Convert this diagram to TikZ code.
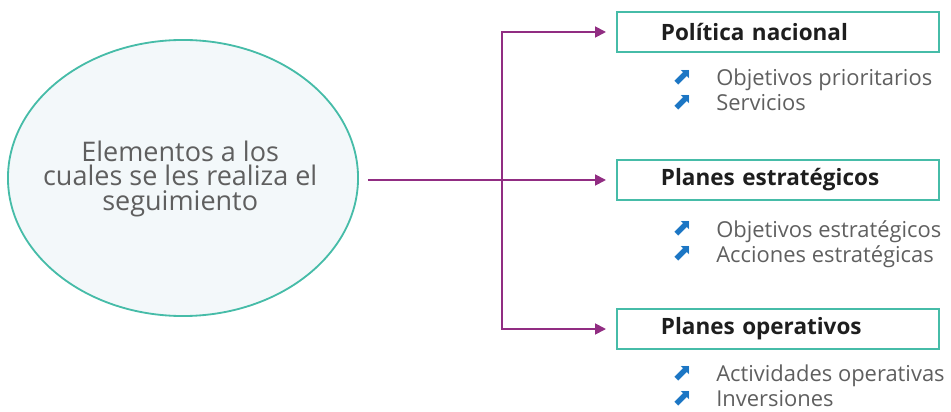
\documentclass[tikz,border=0pt]{standalone}
\usepackage{fontspec}
\setmainfont{Open Sans}
\newfontfamily\simbolos{DejaVu Sans}
\usetikzlibrary{positioning,arrows.meta,shapes.geometric}

\definecolor{turquesa}{RGB}{70,188,168}
\definecolor{morado}{RGB}{145,45,130}
\definecolor{azulicono}{RGB}{28,118,196}
\definecolor{gristexto}{RGB}{95,95,95}
\definecolor{titulo}{RGB}{30,30,30}
\definecolor{fondo}{RGB}{243,248,250}

\newcommand{\vineta}{\makebox[1.1cm][l]{\raisebox{1pt}{\textcolor{azulicono}{\simbolos\fontsize{17}{17}\selectfont ⬈}}}}

\begin{document}
\begin{tikzpicture}[x=0.025cm, y=-0.025cm,
    circulo/.style={ellipse, draw=turquesa, line width=1.3pt, fill=fondo,
      minimum width=8.75cm, minimum height=6.9cm},
    textocirculo/.style={text=gristexto, align=center,
      font=\fontsize{19.2}{17.3}\selectfont, xshift=-0.07cm, yshift=-0.02cm},
    caja/.style={rectangle, draw=turquesa, line width=1.3pt, minimum height=1cm,
      inner xsep=1.1cm, text width=5.85cm, align=left,
      font=\bfseries\fontsize{16}{17}\selectfont, text=titulo},
    lista/.style={align=left, text=gristexto, inner sep=0pt,
      font=\fontsize{15.6}{17.8}\selectfont},
    linea/.style={draw=morado, line width=1.3pt},
    flecha/.style={linea, -{Triangle[length=0.27cm, width=0.27cm]}}]
  \useasboundingbox (0,0) rectangle (951,412);

  \node[circulo, label={[textocirculo]center:{Elementos a los\\cuales se les realiza el\\seguimiento}}] (elem) at (183,178) {};

  \node[caja, anchor=west] (pol) at (616,32) {Política nacional};
  \node[caja, anchor=west] (est) at (616,180) {Planes estratégicos};
  \node[caja, anchor=west] (ope) at (616,329) {Planes operativos};

  \node[lista, anchor=west] (lpol) at (672,90) {\vineta Objetivos prioritarios\\\vineta Servicios};
  \node[lista, anchor=west] (lest) at (672,244) {\vineta Objetivos estratégicos\\\vineta Acciones estratégicas};
  \node[lista, anchor=west] (lope) at (672,386) {\vineta Actividades operativas\\\vineta Inversiones};

  % ramas
  \coordinate (rama) at (502,180);
  \draw[flecha, shorten >=0.25cm] ([xshift=0.22cm]elem.east |- est.west) -- (est.west);
  \draw[flecha, shorten >=0.25cm] (rama) |- (pol.west);
  \draw[flecha, shorten >=0.25cm] (rama) |- (ope.west);
\end{tikzpicture}
\end{document}
